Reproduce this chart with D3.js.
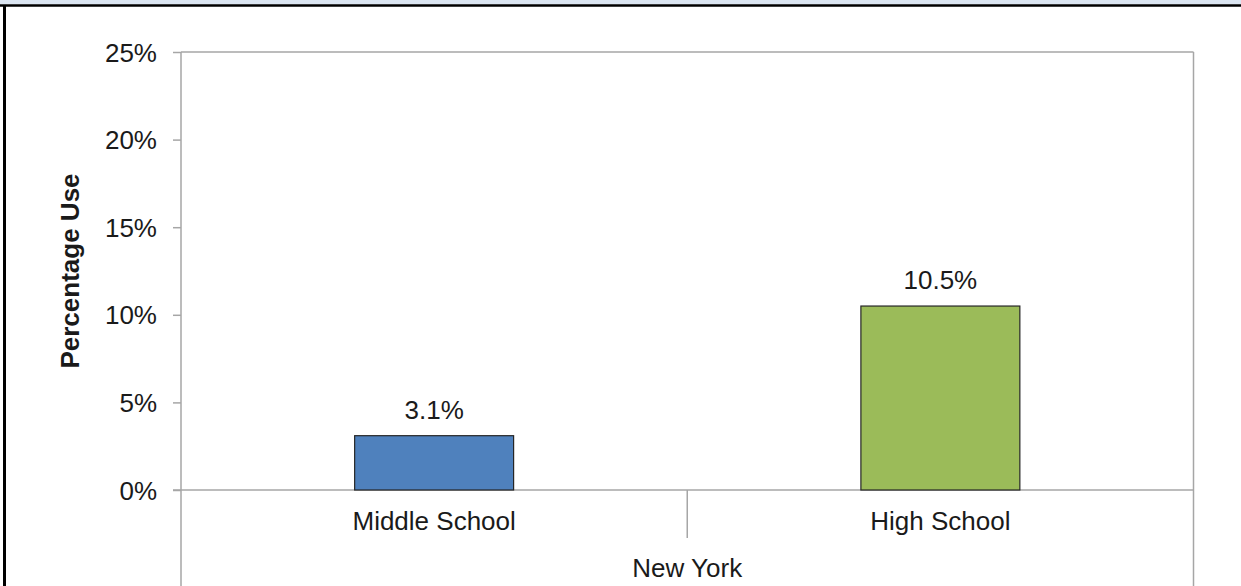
<!DOCTYPE html>
<meta charset="utf-8">
<style>
body { margin: 0; background: #fff; }
text { font-family: "Liberation Sans", Arial, sans-serif; fill: #1a1a1a; }
.axis text { font-size: 26px; }
</style>
<body>
<script src="https://d3js.org/d3.v7.min.js"></script>
<script>

// chart values
var groups = ["New York"];
var categories = ["Middle School", "High School"];
var values = [0.031, 0.105];
var colors = ["#4f81bd", "#9bbb59"];
var yTicks = [0, 0.05, 0.10, 0.15, 0.20, 0.25];

var W = 1241, H = 586;
var margin = {top: 52, right: 47.5, bottom: 96, left: 181};
var width = W - margin.left - margin.right,
    height = H - margin.top - margin.bottom;

var svg = d3.select("body").append("svg")
    .attr("width", W)
    .attr("height", H);

// page frame
svg.append("rect").attr("x", 0).attr("y", 0).attr("width", W).attr("height", 4.5).attr("fill", "#dbe5f1");
svg.append("line").attr("x1", 0).attr("x2", W).attr("y1", 5.5).attr("y2", 5.5)
    .attr("stroke", "#000").attr("stroke-width", 2.5);
svg.append("line").attr("x1", 4.5).attr("x2", 4.5).attr("y1", 5).attr("y2", H)
    .attr("stroke", "#000").attr("stroke-width", 3);

var g = svg.append("g")
    .attr("transform", "translate(" + margin.left + "," + margin.top + ")");

var x = d3.scaleBand().domain(categories).range([0, width]).padding(0);
var y = d3.scaleLinear().domain([0, 0.25]).range([height, 0]);

var axisColor = "#a6a6a6";

// plot area border (top and right)
g.append("line").attr("x1", 0).attr("x2", width).attr("y1", 0).attr("y2", 0)
    .attr("stroke", axisColor).attr("stroke-width", 1.5);
g.append("line").attr("x1", width).attr("x2", width).attr("y1", 0).attr("y2", H - margin.top)
    .attr("stroke", axisColor).attr("stroke-width", 1.5);

// y axis
var yAxis = d3.axisLeft(y)
    .tickValues(yTicks)
    .tickFormat(d3.format(".0%"))
    .tickSize(8)
    .tickSizeOuter(0)
    .tickPadding(16);

var gY = g.append("g").attr("class", "axis").call(yAxis);
gY.select(".domain").remove();
gY.selectAll(".tick line").attr("stroke", axisColor).attr("stroke-width", 1.5);
gY.selectAll(".tick text").attr("dy", "0.35em");

g.append("line").attr("x1", 0).attr("x2", 0).attr("y1", 0).attr("y2", H - margin.top)
    .attr("stroke", axisColor).attr("stroke-width", 1.5);

// zero line
g.append("line").attr("x1", -8).attr("x2", width).attr("y1", y(0)).attr("y2", y(0))
    .attr("stroke", axisColor).attr("stroke-width", 1.5);

// category separators
g.selectAll(".sep")
    .data(categories.slice(1))
    .enter().append("line")
    .attr("class", "sep")
    .attr("x1", function(d) { return x(d); })
    .attr("x2", function(d) { return x(d); })
    .attr("y1", y(0))
    .attr("y2", y(0) + 48)
    .attr("stroke", axisColor).attr("stroke-width", 1.5);

// bars
var barW = x.bandwidth() * 0.314;
g.selectAll(".bar")
    .data(values)
    .enter().append("rect")
    .attr("class", "bar")
    .attr("x", function(d, i) { return x(categories[i]) + (x.bandwidth() - barW) / 2; })
    .attr("y", function(d) { return y(d); })
    .attr("width", barW)
    .attr("height", function(d) { return y(0) - y(d); })
    .attr("fill", function(d, i) { return colors[i]; })
    .attr("stroke", "#262626")
    .attr("stroke-width", 1.2);

// value labels
g.selectAll(".val")
    .data(values)
    .enter().append("text")
    .attr("class", "val")
    .attr("x", function(d, i) { return x(categories[i]) + x.bandwidth() / 2; })
    .attr("y", function(d) { return y(d) - 17; })
    .attr("text-anchor", "middle")
    .style("font-size", "26px")
    .text(function(d) { return d3.format(".1%")(d); });

// category labels
g.selectAll(".cat")
    .data(categories)
    .enter().append("text")
    .attr("class", "cat")
    .attr("x", function(d) { return x(d) + x.bandwidth() / 2; })
    .attr("y", y(0) + 40)
    .attr("text-anchor", "middle")
    .style("font-size", "26px")
    .text(function(d) { return d; });

// group label
g.append("text")
    .attr("x", width / 2)
    .attr("y", y(0) + 87)
    .attr("text-anchor", "middle")
    .style("font-size", "26px")
    .text(groups[0]);

// y title
svg.append("text")
    .attr("transform", "translate(79," + (margin.top + height / 2) + ") rotate(-90)")
    .attr("text-anchor", "middle")
    .style("font-size", "26px")
    .style("font-weight", "bold")
    .text("Percentage Use");

</script>
</body>
